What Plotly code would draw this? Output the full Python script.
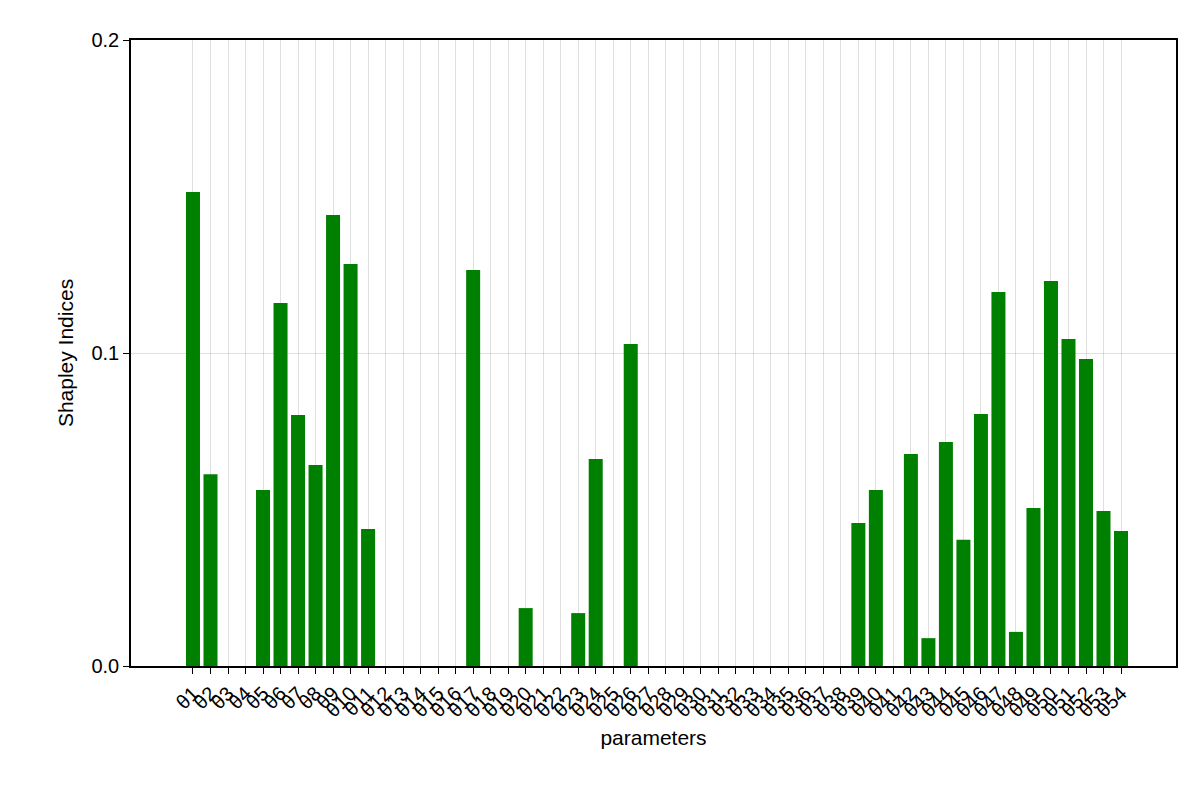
import plotly.graph_objects as go

params = ["θ%d" % i for i in range(1, 55)]
shapley = [0.1514, 0.0613, 0, 0, 0.0562, 0.116, 0.0802, 0.0642, 0.1441, 0.1284,
           0.0438, 0, 0, 0, 0, 0, 0.1265, 0, 0, 0.0185,
           0, 0, 0.0169, 0.0661, 0, 0.1029, 0, 0, 0, 0,
           0, 0, 0, 0, 0, 0, 0, 0, 0.0457, 0.0562,
           0, 0.0677, 0.0089, 0.0716, 0.0403, 0.0805, 0.1195, 0.0109, 0.0505, 0.123,
           0.1045, 0.0981, 0.0495, 0.0431]
y_ticks = [0.0, 0.1, 0.2]

xs = list(range(1, len(params) + 1))

fig = go.Figure(go.Bar(x=xs, y=shapley, width=0.8, marker_color="#008000",
                       marker_line_width=0))

axis_common = dict(showline=True, linecolor="black", linewidth=1.5, mirror=True,
                   ticks="outside", ticklen=6, tickcolor="black",
                   gridcolor="rgba(0,0,0,0.12)", zeroline=False,
                   tickfont=dict(size=20, color="black"))

fig.update_layout(
    width=1200, height=800,
    plot_bgcolor="white", paper_bgcolor="white",
    font=dict(family="Liberation Sans, Arial, sans-serif", color="black"),
    margin=dict(l=123, r=32, t=32, b=142),
    showlegend=False,
    xaxis=dict(axis_common, range=[-2.54, 57.14], tickmode="array",
               tickvals=xs, ticktext=params, tickangle=-45,
               title=dict(text="parameters", font=dict(size=21), standoff=10)),
    yaxis=dict(axis_common, range=[0, 0.2], tickmode="array",
               tickvals=y_ticks, ticktext=["0.0", "0.1", "0.2"],
               title=dict(text="Shapley Indices", font=dict(size=21), standoff=12)),
)

fig.write_html("out.html")
